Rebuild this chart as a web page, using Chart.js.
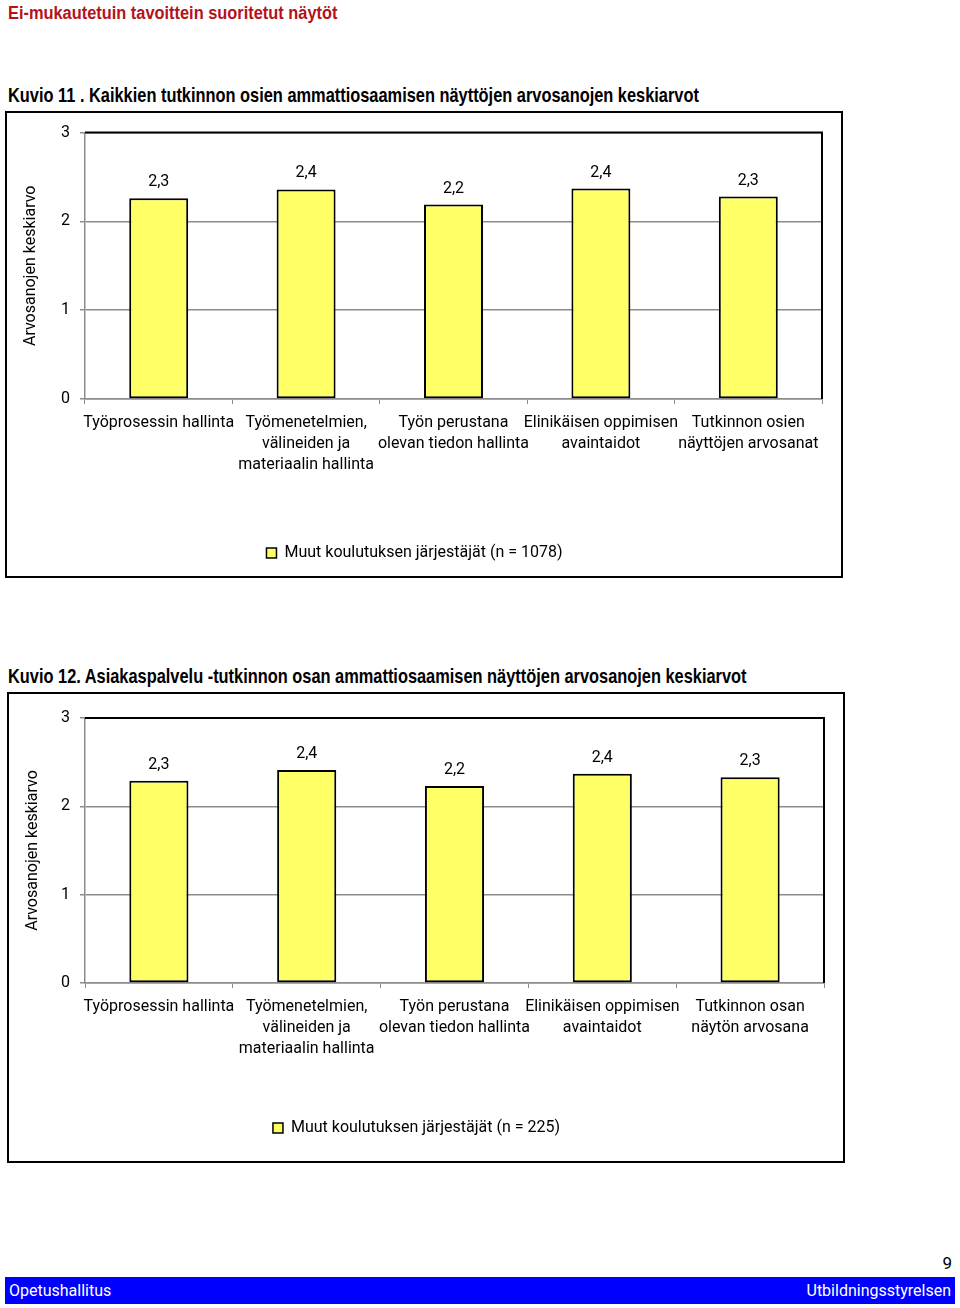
<!DOCTYPE html>
<html>
<head>
<meta charset="utf-8">
<script src="https://cdn.jsdelivr.net/npm/chart.js@4.4.1/dist/chart.umd.min.js"></script>
<style>
  body { margin: 0; background: #fff; font-family: "Liberation Sans", Arial, sans-serif; }
  .page { position: relative; width: 960px; height: 1308px; overflow: hidden; }
  .head { position: absolute; left: 8px; top: 3px; color: #b5121b; font-weight: bold; font-size: 18px;
          transform: scaleX(0.91); transform-origin: left top; white-space: nowrap; }
  .caption { position: absolute; left: 8px; font-size: 21px; color: #000; font-weight: bold;
             transform: scaleX(0.78); transform-origin: left top; white-space: nowrap; }
  .box { position: absolute; border: 2px solid #000; box-sizing: border-box; }
  .box canvas { position: absolute; left: 0; top: 0; }
  .pageno { position: absolute; right: 8px; top: 1253px; font-size: 17px; font-family: Roboto, sans-serif; }
  .footer { position: absolute; left: 5px; top: 1277px; width: 950px; height: 27px; background: #0000ff;
            color: #fff; font-size: 16px; font-family: Roboto, sans-serif; }
  .footer span { position: absolute; top: 4px; }
</style>
</head>
<body>
<div class="page">
  <div class="head">Ei-mukautetuin tavoittein suoritetut näytöt</div>

  <div class="caption" style="top:83px">Kuvio 11 . Kaikkien tutkinnon osien ammattiosaamisen näyttöjen arvosanojen keskiarvot</div>
  <div class="box" style="left:5px;top:111px;width:838px;height:467px">
    <canvas id="chart1"></canvas>
  </div>

  <div class="caption" style="top:664px">Kuvio 12. Asiakaspalvelu -tutkinnon osan ammattiosaamisen näyttöjen arvosanojen keskiarvot</div>
  <div class="box" style="left:7px;top:692px;width:838px;height:471px">
    <canvas id="chart2"></canvas>
  </div>

  <div class="pageno">9</div>
  <div class="footer">
    <span style="left:4px">Opetushallitus</span>
    <span style="right:4px">Utbildningsstyrelsen</span>
  </div>
</div>

<script>
// Data
const categories1 = [
  'Työprosessin hallinta',
  ['Työmenetelmien,', 'välineiden ja', 'materiaalin hallinta'],
  ['Työn perustana', 'olevan tiedon hallinta'],
  ['Elinikäisen oppimisen', 'avaintaidot'],
  ['Tutkinnon osien', 'näyttöjen arvosanat']
];
const values1 = [2.26, 2.36, 2.19, 2.37, 2.28];
const series1 = 'Muut koulutuksen järjestäjät (n = 1078)';

const categories2 = [
  'Työprosessin hallinta',
  ['Työmenetelmien,', 'välineiden ja', 'materiaalin hallinta'],
  ['Työn perustana', 'olevan tiedon hallinta'],
  ['Elinikäisen oppimisen', 'avaintaidot'],
  ['Tutkinnon osan', 'näytön arvosana']
];
const values2 = [2.29, 2.41, 2.23, 2.37, 2.33];
const series2 = 'Muut koulutuksen järjestäjät (n = 225)';

const yTicks = [0, 1, 2, 3];
const yTitle = 'Arvosanojen keskiarvo';

const FONT = 'Roboto, "Liberation Sans", Arial, sans-serif';
const BAR_FILL = '#ffff66';
const GRID = '#8c8c8c';

// value labels above bars
const valueLabels = {
  id: 'valueLabels',
  afterDatasetsDraw(chart) {
    const ctx = chart.ctx;
    const meta = chart.getDatasetMeta(0);
    const data = chart.data.datasets[0].data;
    ctx.save();
    ctx.font = '16px ' + FONT;
    ctx.fillStyle = '#000';
    ctx.textAlign = 'center';
    ctx.textBaseline = 'middle';
    meta.data.forEach((bar, i) => {
      ctx.fillText(data[i].toFixed(1).replace('.', ','), bar.x, bar.y - 16);
    });
    ctx.restore();
  }
};

// black top and right edge of the plot area
const plotFrame = {
  id: 'plotFrame',
  beforeDatasetsDraw(chart) {
    const { ctx, chartArea: a } = chart;
    ctx.save();
    ctx.strokeStyle = '#000';
    ctx.lineWidth = 2;
    ctx.beginPath();
    ctx.moveTo(a.left, a.top);
    ctx.lineTo(a.right, a.top);
    ctx.lineTo(a.right, a.bottom);
    ctx.stroke();
    ctx.restore();
  }
};

function makeChart(id, w, h, cats, vals, label, geo) {
  const canvas = document.getElementById(id);
  canvas.width = w;
  canvas.height = h;
  return new Chart(canvas.getContext('2d'), {
    type: 'bar',
    data: {
      labels: cats,
      datasets: [{
        label,
        data: vals,
        backgroundColor: BAR_FILL,
        borderColor: '#000',
        borderWidth: 2,
        borderSkipped: false,
        barPercentage: 0.4,
        categoryPercentage: 1
      }]
    },
    options: {
      responsive: false,
      animation: false,
      layout: { padding: { left: 0, top: geo.top, right: geo.right, bottom: geo.bottom } },
      plugins: {
        tooltip: { enabled: false },
        legend: {
          position: 'bottom',
          labels: {
            color: '#000',
            font: { size: 16, family: FONT },
            boxWidth: 10,
            boxHeight: 10,
            padding: 6,
            generateLabels: (chart) => [{
              text: chart.data.datasets[0].label,
              fillStyle: BAR_FILL,
              strokeStyle: '#000',
              lineWidth: 1.5,
              datasetIndex: 0
            }]
          },
          onClick: null
        }
      },
      scales: {
        x: {
          offset: true,
          grid: { drawOnChartArea: false, drawTicks: true, tickLength: 5, color: GRID, offset: true },
          border: { color: GRID, width: 1.5 },
          ticks: {
            color: '#000',
            font: { size: 16, family: FONT, lineHeight: 1.31 },
            maxRotation: 0,
            autoSkip: false,
            padding: 9
          },
          afterFit: (scale) => { scale.height = geo.xh; }
        },
        y: {
          min: 0,
          max: 3,
          afterBuildTicks: (scale) => { scale.ticks = yTicks.map(v => ({ value: v })); },
          grid: { color: GRID, lineWidth: 1.5, tickLength: 5 },
          border: { color: GRID, width: 1.5 },
          ticks: { color: '#000', font: { size: 16, family: FONT }, padding: 10 },
          title: {
            display: true,
            text: yTitle,
            color: '#000',
            font: { size: 16, family: FONT },
            padding: { top: 14, bottom: 4 }
          },
          afterFit: (scale) => { scale.width = geo.yw; }
        }
      }
    },
    plugins: [plotFrame, valueLabels]
  });
}

makeChart('chart1', 834, 463, categories1, values1, series1,
  { top: 19, right: 19, bottom: 5, yw: 78, xh: 140 });
makeChart('chart2', 834, 467, categories2, values2, series2,
  { top: 24, right: 19, bottom: 15, yw: 76, xh: 131 });
</script>
</body>
</html>
